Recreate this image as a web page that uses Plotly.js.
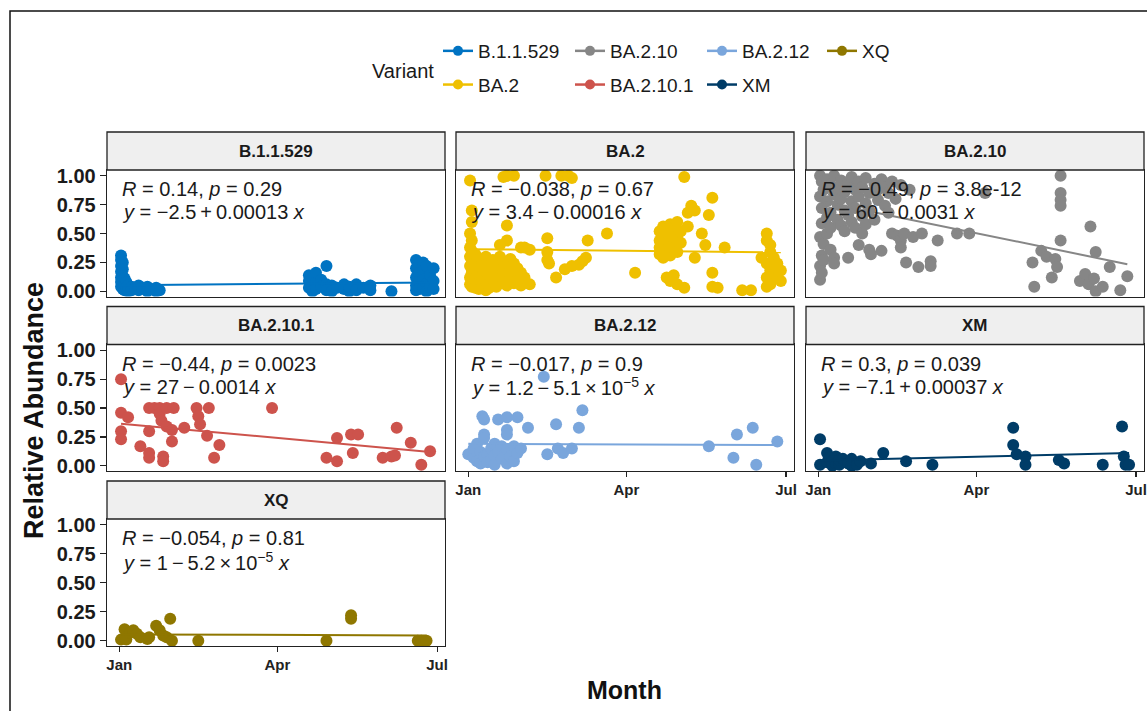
<!DOCTYPE html>
<html><head><meta charset="utf-8">
<script src="https://cdn.plot.ly/plotly-3.0.1.min.js"></script>
<style>html,body{margin:0;padding:0;background:#fff}#chart{width:1147px;height:711px}</style>
</head><body><div id="chart"></div>
<script>
// ---------- data ----------
const variants = ['B.1.1.529','BA.2','BA.2.10','BA.2.10.1','BA.2.12','XM','XQ'];
const colors   = ['#0073C2','#EFC000','#868686','#CD534C','#7AA6DC','#003C67','#8F7700'];
const monthTicks  = ['2022-01-01','2022-04-01','2022-07-01'];
const monthLabels = ['Jan','Apr','Jul'];
const yTicks      = [0,0.25,0.5,0.75,1];
const yTickLabels = ['0.00','0.25','0.50','0.75','1.00'];

const b11529Days = ['2022-01-02','2022-01-03','2022-01-04','2022-01-05','2022-01-06','2022-01-08','2022-01-10','2022-01-12','2022-01-14','2022-01-17','2022-01-19','2022-01-22','2022-01-24','2022-04-19','2022-04-21','2022-04-23','2022-04-26','2022-04-29','2022-05-02','2022-05-05','2022-05-09','2022-05-12','2022-05-16','2022-05-20','2022-05-24','2022-06-05','2022-06-19','2022-06-21','2022-06-23','2022-06-25','2022-06-27','2022-06-29'];
const b11529Vals = [[0.31,0.27,0.22,0.17,0.12,0.08,0.04],[0.25,0.19,0.13,0.09,0.05,0.02],[0.11,0.06,0.01],[0.08,0.03],[0.05,0.00],[0.04,0.01],[0.02],[0.05,0.01],[0.03],[0.04,0.00],[0.02],[0.03,0.00],[0.01],[0.14,0.09,0.03],[0.11,0.05,0.00],[0.16,0.07,0.02],[0.10,0.04],[0.22,0.06,0.01],[0.05,0.00],[0.03],[0.06,0.02],[0.00,0.04],[0.06,0.01],[0.03],[0.01,0.05],[0.00],[0.27,0.20,0.12,0.05,0.01],[0.24,0.16,0.08,0.02],[0.25,0.18,0.10,0.03],[0.22,0.07,0.00],[0.14,0.04],[0.20,0.09,0.02]];

const ba2Days = ['2022-01-02','2022-01-03','2022-01-05','2022-01-07','2022-01-09','2022-01-11','2022-01-13','2022-01-15','2022-01-17','2022-01-19','2022-01-21','2022-01-23','2022-01-25','2022-01-27','2022-01-29','2022-01-31','2022-02-02','2022-02-05','2022-02-14','2022-02-15','2022-02-16','2022-02-20','2022-02-23','2022-02-25','2022-02-27','2022-03-01','2022-03-05','2022-03-07','2022-03-09','2022-03-10','2022-03-21','2022-04-06','2022-04-20','2022-04-22','2022-04-24','2022-04-26','2022-04-28','2022-04-30','2022-05-02','2022-05-04','2022-05-06','2022-05-08','2022-05-10','2022-05-14','2022-05-16','2022-05-18','2022-05-20','2022-05-23','2022-05-27','2022-06-06','2022-06-11','2022-06-17','2022-06-20','2022-06-22','2022-06-24','2022-06-26','2022-06-28'];
const ba2Vals = [[0.96,0.50,0.38,0.30,0.22,0.12,0.06],[0.70,0.60,0.44,0.35,0.27,0.16,0.04],[0.32,0.24,0.19,0.10,0.03],[0.28,0.14,0.07,0.02],[0.25,0.20,0.11,0.05],[0.30,0.17,0.09,0.01],[0.22,0.13,0.06,0.03],[0.27,0.18,0.10],[0.24,0.15,0.08,0.04],[0.40,0.30,0.20,0.12],[0.99,0.26,0.16,0.09],[1.00,0.57,0.44,0.22,0.14,0.05],[0.28,0.18,0.11],[1.00,0.24,0.15,0.07],[0.20,0.10],[0.38,0.16,0.05],[0.38,0.12],[0.36,0.06],[1.00],[0.46,0.34,0.27],[0.24],[0.12],[1.00],[0.19],[1.00],[0.98,0.22],[0.23],[0.26],[0.29],[0.44],[0.50],[0.16],[0.52,0.44,0.38,0.32],[0.56,0.47,0.40,0.34,0.29],[0.54,0.42,0.36,0.12],[0.58,0.50,0.44,0.31,0.09],[0.55,0.46,0.38,0.14],[0.60,0.48,0.34,0.06],[0.52,0.42],[0.99,0.03],[0.68,0.56],[0.74],[0.70,0.29],[0.50],[0.40],[0.66],[0.81,0.16,0.04],[0.03],[0.38],[0.01],[0.01],[0.29],[0.50,0.44,0.24,0.12,0.04],[0.40,0.34,0.18,0.06],[0.29,0.15],[0.24,0.20,0.12],[0.18,0.09]];

const ba210Days = ['2022-01-02','2022-01-03','2022-01-04','2022-01-06','2022-01-08','2022-01-10','2022-01-12','2022-01-14','2022-01-16','2022-01-18','2022-01-20','2022-01-22','2022-01-24','2022-01-26','2022-01-28','2022-01-30','2022-01-31','2022-02-02','2022-02-04','2022-02-06','2022-02-08','2022-02-10','2022-02-12','2022-02-14','2022-02-15','2022-02-17','2022-02-19','2022-02-20','2022-02-22','2022-02-24','2022-02-27','2022-03-01','2022-03-06','2022-03-10','2022-03-21','2022-03-28','2022-04-06','2022-05-03','2022-05-04','2022-05-08','2022-05-11','2022-05-14','2022-05-16','2022-05-17','2022-05-19','2022-05-30','2022-06-02','2022-06-04','2022-06-05','2022-06-07','2022-06-08','2022-06-12','2022-06-16','2022-06-22','2022-06-26'];
const ba210Vals = [[1.00,0.82,0.47,0.22,0.10],[0.95,0.72,0.59,0.31,0.16],[0.88,0.41,0.27],[0.97,0.78,0.64,0.50],[0.92,0.68,0.55,0.36],[1.00,0.84,0.29,0.24],[0.90,0.75,0.62],[0.96,0.80,0.57],[0.86,0.70,0.52],[0.93,0.66,0.29],[0.99,0.78,0.60],[0.88,0.72,0.55],[0.95,0.82,0.40],[0.90,0.65,0.50],[0.98,0.76,0.58],[0.85,0.70,0.36],[0.32],[0.93,0.62],[0.88,0.79],[0.97,0.35],[0.90,0.74],[0.85,0.68],[0.95,0.50],[0.80],[0.48],[0.92,0.44,0.38],[0.50],[0.25],[0.88],[0.47],[0.21],[0.50],[0.26,0.22],[0.44],[0.50],[0.50],[0.85],[0.25],[0.04],[0.35],[0.30],[0.12],[0.28],[0.21],[1.00,0.85,0.79,0.74,0.44],[0.09],[0.15],[0.06],[0.56],[0.11],[0.00,0.34],[0.04],[0.21],[0.01],[0.13]];

const ba2101Days = ['2022-01-02','2022-01-06','2022-01-13','2022-01-18','2022-01-21','2022-01-24','2022-01-25','2022-01-26','2022-01-28','2022-01-31','2022-02-01','2022-02-07','2022-02-14','2022-02-15','2022-02-16','2022-02-20','2022-02-21','2022-02-24','2022-02-27','2022-03-29','2022-04-29','2022-05-05','2022-05-13','2022-05-14','2022-05-17','2022-05-31','2022-06-05','2022-06-07','2022-06-08','2022-06-16','2022-06-22','2022-06-27'];
const ba2101Vals = [[0.75,0.46,0.30,0.23],[0.42],[0.17],[0.50,0.30,0.11,0.07],[0.50],[0.50,0.45],[0.39],[0.08,0.04],[0.50,0.34],[0.31,0.21],[0.50],[0.33],[0.50],[0.43],[0.36],[0.26],[0.50],[0.07],[0.18],[0.50],[0.07],[0.24,0.04],[0.27],[0.11],[0.27],[0.07],[0.08],[0.09],[0.33],[0.20],[0.01],[0.125]];

const ba212Days = ['2022-01-01','2022-01-04','2022-01-06','2022-01-08','2022-01-09','2022-01-10','2022-01-12','2022-01-14','2022-01-16','2022-01-18','2022-01-20','2022-01-23','2022-01-25','2022-01-27','2022-01-29','2022-01-31','2022-02-04','2022-02-13','2022-02-15','2022-02-20','2022-02-21','2022-02-24','2022-03-01','2022-03-05','2022-03-07','2022-05-18','2022-06-01','2022-06-03','2022-06-12','2022-06-14','2022-06-26'];
const ba212Vals = [[0.10],[0.07,0.15],[0.04,0.19],[0.02,0.12],[0.43],[0.40,0.27,0.24,0.08],[0.10,0.03],[0.15,0.05],[0.09,0.19,0.01],[0.40,0.12],[0.06,0.17],[0.42,0.31,0.27,0.14,0.02],[0.08],[0.17,0.04],[0.42,0.11],[0.15],[0.33],[0.77],[0.10],[0.36],[0.15],[0.11],[0.15],[0.33],[0.48],[0.17],[0.07],[0.27],[0.33],[0.01],[0.21]];

const xmDays = ['2022-01-02','2022-01-06','2022-01-07','2022-01-09','2022-01-11','2022-01-13','2022-01-15','2022-01-18','2022-01-20','2022-01-23','2022-01-25','2022-01-31','2022-02-07','2022-02-20','2022-03-07','2022-04-22','2022-04-24','2022-04-29','2022-05-18','2022-05-21','2022-06-12','2022-06-23','2022-06-24','2022-06-25','2022-06-27'];
const xmVals = [[0.23,0.01],[0.11,0.03],[0.07],[0.04,0.00],[0.08,0.02],[0.01,0.05],[0.06],[0.02],[0.06,0.00],[0.01],[0.04],[0.02],[0.11],[0.04],[0.01],[0.33,0.18],[0.10],[0.08,0.01],[0.05],[0.02],[0.01],[0.34],[0.08],[0.01],[0.01]];

const xqDays = ['2022-01-02','2022-01-04','2022-01-05','2022-01-07','2022-01-09','2022-01-11','2022-01-13','2022-01-17','2022-01-18','2022-01-22','2022-01-24','2022-01-26','2022-01-28','2022-01-30','2022-01-31','2022-02-15','2022-04-29','2022-05-13','2022-06-20','2022-06-22','2022-06-25'];
const xqVals = [[0.01],[0.10],[0.01],[0.07],[0.09],[0.06],[0.03],[0.015],[0.03],[0.13],[0.09],[0.045],[0.03],[0.19],[0.00],[0.00],[0.00],[0.22,0.19],[0.00],[0.00],[0.00]];

// fitted regression line values at the first and last sampling date
const fitStartEnd = [[0.053,0.076],[0.365,0.337],[0.78,0.235],[0.365,0.12],[0.19,0.18],[0.045,0.11],[0.055,0.046]];

const statLine1 = [
  '<i>R</i> = 0.14, <i>p</i> = 0.29',
  '<i>R</i> = \u22120.038, <i>p</i> = 0.67',
  '<i>R</i> = \u22120.49, <i>p</i> = 3.8e-12',
  '<i>R</i> = \u22120.44, <i>p</i> = 0.0023',
  '<i>R</i> = \u22120.017, <i>p</i> = 0.9',
  '<i>R</i> = 0.3, <i>p</i> = 0.039',
  '<i>R</i> = \u22120.054, <i>p</i> = 0.81'];
const statLine2 = [
  '<i>y</i> = \u22122.5\u2009+\u20090.00013 <i>x</i>',
  '<i>y</i> = 3.4\u2009\u2212\u20090.00016 <i>x</i>',
  '<i>y</i> = 60\u2009\u2212\u20090.0031 <i>x</i>',
  '<i>y</i> = 27\u2009\u2212\u20090.0014 <i>x</i>',
  '<i>y</i> = 1.2\u2009\u2212\u20095.1\u2009\u00d7\u200910<sup>\u22125</sup> <i>x</i>',
  '<i>y</i> = \u22127.1\u2009+\u20090.00037 <i>x</i>',
  '<i>y</i> = 1\u2009\u2212\u20095.2\u2009\u00d7\u200910<sup>\u22125</sup> <i>x</i>'];

const allDays = [b11529Days, ba2Days, ba210Days, ba2101Days, ba212Days, xmDays, xqDays];
const allVals = [b11529Vals, ba2Vals, ba210Vals, ba2101Vals, ba212Vals, xmVals, xqVals];

// ---------- layout geometry ----------
const W = 1147, H = 711;
const colPx = [[107,445],[456,794],[806,1144]];
const rowPx = [[170,296.5],[344.5,471],[519,646]];
const stripH = 38;
const panelPos = [[0,0],[1,0],[2,0],[0,1],[1,1],[2,1],[0,2]];
const xRange = ['2021-12-25','2022-07-05 12:00'];
const yRange = [-0.045, 1.05];
const FONT = 'Liberation Sans, Arial, sans-serif';
const fx = px => px / W;
const fy = py => 1 - py / H;

const traces = [];
const layout = {
  width: W, height: H,
  margin: {l:0, r:0, t:0, b:0},
  paper_bgcolor: '#fff', plot_bgcolor: '#fff',
  showlegend: true,
  font: {family: FONT, color: '#1a1a1a'},
  shapes: [], annotations: []
};

variants.forEach((v, i) => {
  const ax = i === 0 ? '' : String(i + 1);
  const [c, r] = panelPos[i];
  const xs = [], ys = [];
  allDays[i].forEach((d, k) => allVals[i][k].forEach(val => { xs.push(d); ys.push(val); }));
  traces.push({
    type: 'scatter', mode: 'markers', x: xs, y: ys,
    xaxis: 'x' + ax, yaxis: 'y' + ax, showlegend: false, hoverinfo: 'skip',
    marker: {color: colors[i], size: 12, line: {width: 0}}
  });
  const days = allDays[i];
  traces.push({
    type: 'scatter', mode: 'lines', x: [days[0], days[days.length - 1]], y: fitStartEnd[i],
    xaxis: 'x' + ax, yaxis: 'y' + ax, showlegend: false, hoverinfo: 'skip',
    line: {color: colors[i], width: 2}
  });
  const showX = (i >= 4);
  const showY = (c === 0);
  layout['xaxis' + ax] = {
    type: 'date', domain: [fx(colPx[c][0]), fx(colPx[c][1])], range: xRange,
    anchor: 'y' + ax, showgrid: false, zeroline: false,
    showline: true, mirror: true, linecolor: '#222', linewidth: 1.3,
    ticks: showX ? 'outside' : '', ticklen: 5, tickwidth: 1.2, tickcolor: '#222',
    tickvals: monthTicks, ticktext: monthLabels, showticklabels: showX,
    tickfont: {family: FONT, size: 15, weight: 'bold', color: '#222'}
  };
  layout['yaxis' + ax] = {
    domain: [fy(rowPx[r][1]), fy(rowPx[r][0])], range: yRange,
    anchor: 'x' + ax, showgrid: false, zeroline: false,
    showline: true, mirror: true, linecolor: '#222', linewidth: 1.3,
    ticks: showY ? 'outside' : '', ticklen: 6, tickwidth: 1.2, tickcolor: '#222',
    tickvals: yTicks, ticktext: yTickLabels, showticklabels: showY,
    tickfont: {family: FONT, size: 20, weight: 'bold', color: '#1a1a1a'}
  };
  // strip
  layout.shapes.push({
    type: 'rect', xref: 'paper', yref: 'paper', layer: 'above',
    x0: fx(colPx[c][0]), x1: fx(colPx[c][1]),
    y0: fy(rowPx[r][0]), y1: fy(rowPx[r][0] - stripH),
    fillcolor: '#EFEFEF', line: {color: '#222', width: 1.3}
  });
  layout.annotations.push({
    xref: 'paper', yref: 'paper', showarrow: false,
    x: fx((colPx[c][0] + colPx[c][1]) / 2), y: fy(rowPx[r][0] - stripH / 2),
    xanchor: 'center', yanchor: 'middle', text: '<b>' + v + '</b>',
    font: {family: FONT, size: 17, color: '#1a1a1a'}
  });
  layout.annotations.push({
    xref: 'paper', yref: 'paper', showarrow: false,
    x: fx(colPx[c][0] + 13), y: fy(rowPx[r][0] + 19),
    xanchor: 'left', yanchor: 'middle', text: statLine1[i],
    font: {family: FONT, size: 20, color: '#1a1a1a'}
  });
  layout.annotations.push({
    xref: 'paper', yref: 'paper', showarrow: false,
    x: fx(colPx[c][0] + 13), y: fy(rowPx[r][0] + 42),
    xanchor: 'left', yanchor: 'middle', text: statLine2[i],
    font: {family: FONT, size: 20, color: '#1a1a1a'}
  });
});

// legend entries (four columns, ggplot order by column)
const legendCols = [[0,1],[2,3],[4,5],[6]];
const legendLeft = [438, 570, 702, 822];
legendCols.forEach((items, li) => {
  const key = li === 0 ? 'legend' : 'legend' + (li + 1);
  items.forEach(i => {
    traces.push({
      type: 'scatter', mode: 'lines+markers', x: [null], y: [null],
      name: variants[i], legend: key, legendgroup: 'g' + i, showlegend: true,
      marker: {color: colors[i], size: 10}, line: {color: colors[i], width: 2.5}
    });
  });
  layout[key] = {
    x: fx(legendLeft[li]), y: fy(32), xanchor: 'left', yanchor: 'top',
    orientation: 'v', bgcolor: 'rgba(0,0,0,0)', tracegroupgap: 6, itemwidth: 30,
    font: {family: FONT, size: 19, color: '#1a1a1a'}
  };
});

layout.annotations.push({
  xref: 'paper', yref: 'paper', showarrow: false, x: fx(436), y: fy(71),
  xanchor: 'right', yanchor: 'middle', text: 'Variant',
  font: {family: FONT, size: 20, color: '#1a1a1a'}
});
layout.annotations.push({
  xref: 'paper', yref: 'paper', showarrow: false, x: fx(34), y: fy(411),
  xanchor: 'center', yanchor: 'middle', textangle: -90, text: '<b>Relative Abundance</b>',
  font: {family: FONT, size: 27, color: '#111'}
});
layout.annotations.push({
  xref: 'paper', yref: 'paper', showarrow: false, x: fx(624), y: fy(690),
  xanchor: 'center', yanchor: 'middle', text: '<b>Month</b>',
  font: {family: FONT, size: 25, color: '#111'}
});
// outer frame of the picture
layout.shapes.push({
  type: 'rect', xref: 'paper', yref: 'paper', layer: 'above',
  x0: fx(10), x1: 1.02, y0: -0.02, y1: fy(11),
  fillcolor: 'rgba(0,0,0,0)', line: {color: '#111', width: 1.5}
});

Plotly.newPlot('chart', traces, layout, {displayModeBar: false, staticPlot: true});
</script></body></html>
